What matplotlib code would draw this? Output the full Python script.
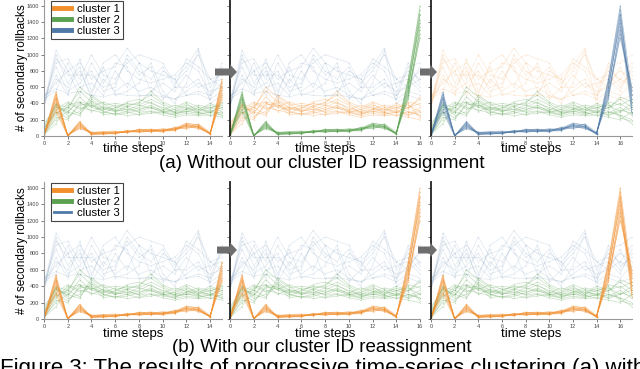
import matplotlib
matplotlib.use("Agg")
import matplotlib.pyplot as plt
from matplotlib.lines import Line2D
from matplotlib.patches import FancyArrow

plt.rcParams["font.family"] = ["Liberation Sans", "DejaVu Sans"]

ORANGE, GREEN, BLUE = "#F28E2B", "#59A14F", "#4E79A7"
ARROW = "#6e6e6e"

# secondary rollbacks per time step (t = 0..17), one row per series
low = [
    [10, 540, 5, 160, 30, 40, 35, 50, 60, 70, 60, 80, 130, 110, 30, 560, 1480, 420],
    [0, 480, 0, 140, 20, 30, 40, 45, 70, 60, 75, 90, 140, 120, 20, 620, 1390, 380],
    [20, 420, 10, 120, 40, 50, 45, 60, 55, 80, 65, 70, 110, 100, 40, 500, 1300, 500],
    [5, 380, 0, 170, 15, 25, 30, 55, 65, 50, 70, 100, 150, 140, 25, 680, 1550, 330],
    [15, 520, 5, 100, 35, 45, 50, 40, 80, 75, 55, 85, 120, 90, 35, 450, 1250, 560],
    [0, 450, 0, 130, 25, 35, 25, 65, 50, 65, 80, 75, 160, 130, 30, 590, 1430, 300],
    [25, 330, 15, 90, 45, 55, 60, 50, 75, 85, 70, 95, 100, 150, 45, 530, 1200, 600],
    [10, 500, 5, 150, 20, 30, 35, 70, 60, 55, 60, 65, 140, 115, 20, 650, 1500, 450],
    [5, 300, 0, 180, 30, 40, 50, 45, 85, 70, 90, 80, 125, 105, 35, 480, 1340, 270],
    [20, 460, 10, 110, 50, 20, 40, 55, 45, 60, 50, 110, 90, 125, 30, 700, 1600, 520],
]
mid = [
    [50, 350, 300, 420, 380, 330, 300, 350, 290, 310, 280, 260, 330, 300, 350, 300, 260, 200],
    [100, 280, 350, 550, 420, 300, 260, 280, 320, 380, 300, 250, 280, 260, 300, 350, 400, 300],
    [0, 400, 250, 300, 450, 350, 320, 300, 350, 420, 330, 300, 360, 280, 320, 250, 300, 350],
    [80, 320, 420, 350, 320, 280, 350, 400, 380, 450, 380, 280, 300, 350, 280, 400, 220, 180],
    [30, 200, 300, 250, 500, 400, 300, 330, 300, 350, 290, 330, 400, 300, 380, 330, 480, 420],
    [120, 380, 280, 480, 350, 320, 380, 360, 420, 500, 400, 320, 380, 330, 300, 280, 350, 250],
    [60, 300, 220, 380, 400, 260, 280, 250, 270, 300, 260, 230, 260, 250, 260, 230, 200, 300],
    [20, 150, 380, 420, 300, 360, 330, 420, 450, 400, 350, 300, 330, 380, 350, 380, 300, 400],
    [150, 360, 320, 600, 480, 380, 400, 380, 400, 550, 420, 350, 420, 360, 330, 420, 380, 450],
    [40, 260, 400, 330, 380, 300, 270, 300, 260, 280, 300, 270, 300, 290, 250, 300, 250, 150],
    [90, 390, 350, 270, 430, 340, 310, 370, 330, 360, 320, 380, 340, 320, 400, 350, 450, 350],
    [10, 230, 200, 400, 360, 420, 360, 320, 380, 340, 310, 290, 310, 270, 290, 260, 320, 280],
]
high = [
    [400, 1050, 800, 900, 700, 800, 850, 1080, 900, 800, 750, 700, 850, 1080, 600, 800, 700, 900],
    [450, 900, 950, 700, 1000, 750, 700, 900, 1000, 950, 900, 650, 800, 1000, 700, 750, 600, 800],
    [380, 700, 600, 800, 500, 900, 1000, 800, 700, 650, 700, 750, 900, 800, 500, 650, 800, 700],
    [500, 580, 520, 550, 500, 480, 520, 500, 490, 510, 480, 460, 500, 520, 450, 550, 500, 650],
    [420, 850, 550, 650, 800, 550, 600, 1000, 800, 700, 850, 600, 600, 700, 450, 850, 900, 1000],
    [350, 1000, 650, 850, 450, 700, 550, 650, 550, 600, 500, 450, 550, 650, 550, 600, 700, 600],
    [460, 550, 900, 600, 650, 500, 800, 600, 900, 550, 650, 550, 750, 600, 650, 700, 550, 850],
    [400, 750, 500, 950, 550, 850, 500, 550, 650, 900, 550, 400, 650, 1050, 400, 500, 450, 500],
    [480, 650, 800, 500, 900, 650, 900, 850, 500, 500, 800, 700, 500, 550, 500, 900, 650, 750],
    [370, 950, 750, 750, 750, 600, 650, 950, 750, 850, 450, 600, 950, 850, 700, 600, 850, 550],
]

# number of time steps seen by each panel and its x ticks
steps = [16, 17, 18]
xticks = [list(range(0, 15, 2)), list(range(0, 17, 2)), list(range(0, 17, 2))]
yticks = list(range(0, 1601, 200))
labels = ["cluster 1", "cluster 2", "cluster 3"]

# colour of the (low, mid, high) groups in each panel
colors_a = [(ORANGE, GREEN, BLUE), (GREEN, ORANGE, BLUE), (BLUE, GREEN, ORANGE)]
colors_b = [(ORANGE, GREEN, BLUE)] * 3

W, H = 640, 369
fig = plt.figure(figsize=(W / 100, H / 100), dpi=100)

lefts = [44, 230, 431]
rights = [222, 420, 632]


def row(top, bottom, colors, leg_lw, xlab_y):
    for i in range(3):
        ax = fig.add_axes([lefts[i] / W, 1 - bottom / H,
                           (rights[i] - lefts[i]) / W, (bottom - top) / H])
        n = steps[i]
        t = list(range(n))
        c_low, c_mid, c_high = colors[i]
        for rows, col, a in ((high, c_high, 0.16), (mid, c_mid, 0.3), (low, c_low, 0.45)):
            for r in rows:
                ax.plot(t, r[:n], color=col, lw=0.55, alpha=a,
                        marker="o", ms=1.0, mew=0)
        ax.set_xlim(0, n - 1)
        ax.set_ylim(0, 1670)
        ax.set_xticks(xticks[i])
        ax.set_yticks(yticks)
        ax.tick_params(labelsize=4, length=2, width=0.5, pad=1.5,
                       colors="#444")
        for s in ("top", "right"):
            ax.spines[s].set_visible(False)
        ax.spines["bottom"].set_color("#999")
        ax.spines["bottom"].set_linewidth(0.8)
        if i == 0:
            ax.spines["left"].set_color("#999")
            ax.spines["left"].set_linewidth(0.8)
            ax.set_ylabel("# of secondary rollbacks", fontsize=8.5)
            ax.yaxis.set_label_coords(-0.09, 0.5)
            hs = [Line2D([], [], color=c, lw=w) for c, w in zip((ORANGE, GREEN, BLUE), leg_lw)]
            leg = ax.legend(hs, labels, loc="upper left",
                            bbox_to_anchor=(0.039, 0.995), borderaxespad=0,
                            fontsize=8.1, handlelength=1.5, handletextpad=0.5,
                            labelspacing=0.1, borderpad=0.28, fancybox=False,
                            framealpha=1, edgecolor="#444")
            leg.get_frame().set_linewidth(0.8)
        else:
            ax.spines["left"].set_color("#222")
            ax.spines["left"].set_linewidth(1.3)
            ax.set_yticklabels([])
        ax.set_xlabel("time steps", fontsize=9.5)
        ax.xaxis.set_label_coords(0.5, xlab_y)


def arrow(x0, x1, y):
    fig.add_artist(FancyArrow(x0 / 100, (H - y) / 100, (x1 - x0) / 100, 0,
                              width=0.07, head_width=0.15, head_length=0.07,
                              length_includes_head=True, color=ARROW, lw=0,
                              transform=fig.dpi_scale_trans, zorder=10))


row(0, 136, colors_a, (3.5, 3.5, 3.5), -0.05)
row(182, 319, colors_b, (3.5, 3.5, 2.0), -0.065)

arrow(215, 237, 72)
arrow(420, 437, 72)
arrow(217, 237, 250)
arrow(418, 437, 250)

fig.text(322 / W, 1 - 163 / H, "(a) Without our cluster ID reassignment",
         ha="center", va="center", fontsize=13.5)
fig.text(322 / W, 1 - 347 / H, "(b) With our cluster ID reassignment",
         ha="center", va="center", fontsize=13.5)
fig.text(0.0, (H - 374) / H,
         "Figure 3: The results of progressive time-series clustering (a) with",
         ha="left", va="baseline", fontsize=16)

fig.savefig("out.png", dpi=100)
